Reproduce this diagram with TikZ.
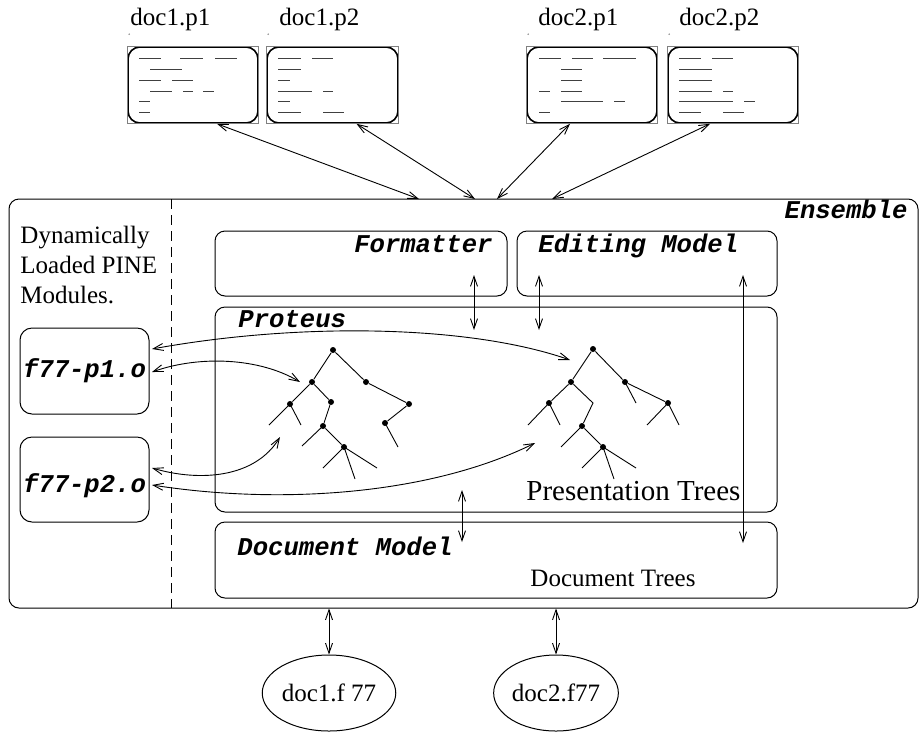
\documentclass[tikz,border=0pt]{standalone}
\usepackage{fontspec}
\setmainfont{Liberation Serif}
\setmonofont{Liberation Mono}
\usetikzlibrary{positioning,calc,fit,shapes.geometric,arrows.meta}

\tikzset{
  modbox/.style={draw, rounded corners=5pt, inner sep=0pt, line width=0.5pt},
  pagebox/.style={draw, rounded corners=6pt, inner sep=0pt, line width=0.8pt},
  filebox/.style={draw, ellipse, inner sep=0pt, line width=0.5pt},
  dot/.style={circle, fill, inner sep=0pt, minimum size=3pt},
  txtline/.style={black!75, line width=0.5pt},
  serif/.style={font=\fontsize{12.5}{15}\selectfont, inner sep=0pt},
  mono/.style={font=\fontsize{12.8}{15}\selectfont\ttfamily\bfseries\itshape, inner sep=0pt},
  link/.style={<->, line width=0.45pt},
}

\begin{document}
\begin{tikzpicture}[x=0.5pt, y=-0.5pt, line width=0.45pt,
    >={Straight Barb[length=5pt,width=3.5pt]}]
    \useasboundingbox (0,0) rectangle (919,750);

    % page views
    \node[pagebox, fit={(128,47) (258,123)}] (p11) {};
    \node[pagebox, fit={(267,47) (398,123)}] (p12) {};
    \node[pagebox, fit={(527,47) (657,123)}] (p21) {};
    \node[pagebox, fit={(668,47) (798,123)}] (p22) {};
    \foreach \p in {p11,p12,p21,p22} {
        \draw[gray, line width=0.4pt] (\p.south west) rectangle (\p.north east);
        \fill[gray] ($(\p.north west)+(2,-12)$) circle (0.4pt);
    }
    \node[serif, anchor=base west] (l11) at (130,25) {doc1.p1};
    \node[serif, anchor=base west] (l12) at (279,25) {doc1.p2};
    \node[serif, anchor=base west] (l21) at (538,25) {doc2.p1};
    \node[serif, anchor=base west] (l22) at (679,25) {doc2.p2};

    % text lines in the pages
    \foreach \a/\b/\y in {139/161/58, 180/203/58, 215/237/58, 150/182/69,
        139/161/80, 172/193/80, 150/172/91, 183/193/91, 203/214/91,
        139/150/101, 139/150/112,
        278/301/58, 312/333/58, 278/301/69, 278/290/80, 278/312/91,
        323/333/91, 278/290/101, 278/301/112, 323/344/112,
        539/561/58, 572/593/58, 603/636/58, 561/582/69, 561/582/80,
        539/550/91, 561/582/91, 561/603/101, 614/625/101, 539/550/112,
        679/701/58, 712/733/58, 679/712/69, 679/712/80, 679/712/91,
        723/733/91, 679/733/101, 744/755/101, 679/701/112, 723/744/112}
        \draw[txtline] (\a,\y) -- (\b,\y);

    % Ensemble
    \node[modbox, fit={(9,199) (918,608)}] (ens) {};
    \node[mono, anchor=base east] (ensl) at (908,218) {Ensemble};
    \draw[dashed, dash pattern=on 5pt off 3pt] (171,199) -- (171,608);
    \node[serif, align=left, anchor=north west] (dyn) at (20,226)
        {Dynamically\\Loaded PINE\\Modules.};

    \coordinate (e1) at (419,199);
    \coordinate (e2) at (475,199);
    \coordinate (e3) at (497,199);
    \coordinate (e4) at (552,199);
    \draw[link] ($(p11.south)+(24,0)$) -- (e1);
    \draw[link] ($(p12.south)+(24,0)$) -- (e2);
    \draw[link] ($(p21.south)+(-22,0)$) -- (e3);
    \draw[link] ($(p22.south)+(-23,0)$) -- (e4);

    % modules
    \node[modbox, rounded corners=6pt, fit={(20,328) (149,414)}] (f1) {};
    \node[mono] (f1l) at (f1.center) {f77-p1.o};
    \node[modbox, rounded corners=6pt, fit={(20,437) (149,522)}] (f2) {};
    \node[mono] (f2l) at ($(f2.center)+(0,6)$) {f77-p2.o};

    \node[modbox, fit={(215,231) (507,296)}] (fmt) {};
    \node[mono, anchor=base east] (fmtl) at (493,252) {Formatter};
    \node[modbox, fit={(517,231) (777,296)}] (edm) {};
    \node[mono, anchor=base west] (edml) at (538,252) {Editing Model};
    \node[modbox, fit={(215,307) (777,512)}] (pro) {};
    \node[mono, anchor=base west] (prol) at (238,327) {Proteus};
    \node[serif, font=\fontsize{14.5}{17}\selectfont, anchor=base west] (ptr) at (526,500) {Presentation Trees};
    \node[modbox, fit={(215,522) (777,598)}] (dcm) {};
    \node[mono, anchor=base west] (dcml) at (237,555) {Document Model};
    \node[serif, anchor=base west] (dtr) at (530,586) {Document Trees};

    % files
    \node[filebox, minimum width=57pt, minimum height=38pt] (d1) at (329,693) {\fontsize{12.5}{15}\selectfont doc1.f 77};
    \node[filebox, minimum width=57pt, minimum height=38pt] (d2) at (556,693) {\fontsize{12.5}{15}\selectfont doc2.f77};
    \draw[link] (d1.north |- ens.south) -- (d1.north);
    \draw[link] (d2.north |- ens.south) -- (d2.north);

    % links between the models
    \coordinate (fa) at (474,275);
    \coordinate (pa) at (474,330);
    \coordinate (ea) at (539,275);
    \coordinate (pb) at (539,330);
    \coordinate (eb) at (743,275);
    \coordinate (da) at (743,543);
    \coordinate (pc) at (462,490);
    \coordinate (db) at (462,542);
    \draw[link] (fa) -- (pa);
    \draw[link] (ea) -- (pb);
    \draw[link] (eb) -- (da);
    \draw[link] (pc) -- (db);

    % left tree
    \node[dot] (a) at (333,350) {};
    \node[dot] (b) at (312,382) {};
    \node[dot] (c) at (366,382) {};
    \node[dot] (d) at (290,404) {};
    \node[dot] (e) at (331,402) {};
    \node[dot] (f) at (409,404) {};
    \node[dot] (g) at (323,426) {};
    \node[dot] (h) at (385,423) {};
    \node[dot] (i) at (344,447) {};
    \draw (a) -- (b) (a) -- (c) (b) -- (d) (b) -- (e) (e) -- (g) (g) -- (i)
          (c) -- (f) (f) -- (h);
    \draw (d.center) -- ++(-21,21) (d.center) -- ++(11,21) (g.center) -- ++(-21,20)
          (i.center) -- ++(-21,21) (i.center) -- ++(11,32) (i.center) -- ++(33,21)
          (h.center) -- ++(13,24);

    % right tree
    \node[dot] (r) at (593,349) {};
    \node[dot] (s) at (571,382) {};
    \node[dot] (t) at (625,382) {};
    \node[dot] (u) at (549,403) {};
    \coordinate (v) at (593,403);
    \node[dot] (w) at (582,426) {};
    \node[dot] (x) at (603,447) {};
    \node[dot] (y) at (668,403) {};
    \draw (r) -- (s) (r) -- (t) (s) -- (u) (s) -- (v) -- (w) (w) -- (x) (t) -- (y);
    \draw (u.center) -- ++(-21,22) (u.center) -- ++(11,22) (w.center) -- ++(-21,21)
          (x.center) -- ++(-21,21) (x.center) -- ++(11,32) (x.center) -- ++(33,21)
          (t.center) -- ++(11,21) (y.center) -- ++(-21,22) (y.center) -- ++(11,22);

    % module links into the trees
    \coordinate (m1) at (152,349);
    \coordinate (m2) at (152,372);
    \coordinate (m3) at (152,468);
    \coordinate (m4) at (152,485);
    \coordinate (t1) at (570,360);
    \coordinate (t2) at (300,382);
    \coordinate (t3) at (280,437);
    \coordinate (t4) at (535,443);
    \draw[link] (m1) .. controls (300,322) and (470,325) .. (t1);
    \draw[link] (m2) .. controls (200,355) and (260,358) .. (t2);
    \draw[link] (m3) .. controls (200,482) and (255,478) .. (t3);
    \draw[link] (m4) .. controls (280,505) and (430,495) .. (t4);
\end{tikzpicture}
\end{document}
